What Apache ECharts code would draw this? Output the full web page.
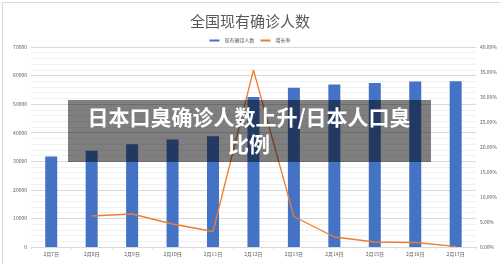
<!DOCTYPE html>
<html>
<head>
<meta charset="utf-8">
<script src="https://cdn.jsdelivr.net/npm/echarts@6/dist/echarts.min.js"></script>
<style>
  html, body { margin: 0; padding: 0; background: #fff; }
  #main { width: 500px; height: 264px; }
</style>
</head>
<body>
<div id="main"></div>
<script>
// 日期
const dates = ['2月7日', '2月8日', '2月9日', '2月10日', '2月11日', '2月12日', '2月13日', '2月14日', '2月15日', '2月16日', '2月17日'];
// 现有确诊人数
const confirmed = [31700, 33700, 36000, 37600, 38800, 52500, 55700, 56900, 57400, 57900, 58000];
// 增长率 (%)
const growth = ['-', 6.2, 6.6, 4.6, 3.1, 35.4, 6.1, 2.0, 1.0, 0.9, 0.14];

const FONT = '"Noto Sans CJK SC", "Noto Sans", sans-serif';
const chart = echarts.init(document.getElementById('main'));

chart.setOption({
    animation: false,
    backgroundColor: '#fff',
    title: {
        text: '全国现有确诊人数',
        left: 'center',
        top: 9,
        textStyle: { fontFamily: FONT, fontSize: 15, fontWeight: 'normal', color: '#595959' }
    },
    legend: {
        top: 33,
        left: 'center',
        itemWidth: 10,
        itemHeight: 2,
        itemGap: 6,
        textStyle: { fontFamily: FONT, fontSize: 5, color: '#595959' },
        data: [
            { name: '现有确诊人数', icon: 'rect' },
            { name: '增长率', icon: 'rect' }
        ]
    },
    grid: { left: 31, right: 24, top: 47, bottom: 17 },
    xAxis: {
        type: 'category',
        data: dates,
        axisLine: { lineStyle: { color: '#d9d9d9' } },
        axisTick: { show: true, length: 2, lineStyle: { color: '#d9d9d9' } },
        axisLabel: { fontFamily: FONT, fontSize: 5, color: '#595959', margin: 5 }
    },
    yAxis: [
        {
            type: 'value',
            min: 0,
            max: 70000,
            interval: 10000,
            axisLine: { show: false },
            axisTick: { show: false },
            axisLabel: { fontFamily: FONT, fontSize: 5, color: '#595959', margin: 4, formatter: (v) => String(v) },
            splitLine: { lineStyle: { color: '#d9d9d9', width: 1 } },
            minorTick: { show: false, splitNumber: 5 },
            minorSplitLine: { show: true, lineStyle: { color: '#f0f0f0', width: 1 } }
        },
        {
            type: 'value',
            min: 0,
            max: 40,
            interval: 5,
            axisLine: { show: false },
            axisTick: { show: false },
            splitLine: { show: false },
            axisLabel: {
                fontFamily: FONT, fontSize: 5, color: '#595959', margin: 4,
                formatter: (v) => v.toFixed(2) + '%'
            }
        }
    ],
    series: [
        {
            name: '现有确诊人数',
            type: 'bar',
            data: confirmed,
            barWidth: 12,
            itemStyle: { color: '#4472c4' }
        },
        {
            name: '增长率',
            type: 'line',
            yAxisIndex: 1,
            data: growth,
            showSymbol: false,
            symbol: 'none',
            itemStyle: { color: '#ed7d31' },
            lineStyle: { color: '#ed7d31', width: 1.3 }
        }
    ],
    graphic: [
        {
            type: 'rect',
            left: 0, top: 0,
            shape: { x: 0.5, y: 0.5, width: 499, height: 263 },
            style: { fill: 'none', stroke: '#d9d9d9', lineWidth: 1 },
            silent: true
        },
        {
            type: 'rect',
            z: 100,
            shape: { x: 68, y: 100, width: 363, height: 62 },
            style: { fill: 'rgba(0,0,0,0.5)' }
        },
        {
            type: 'text',
            z: 101,
            x: 249,
            y: 104,
            style: {
                text: '日本口臭确诊人数上升/日本人口臭\n比例',
                fill: '#fff',
                font: 'bold 21px ' + FONT,
                textAlign: 'center',
                lineHeight: 27
            }
        }
    ]
});
</script>
</body>
</html>
